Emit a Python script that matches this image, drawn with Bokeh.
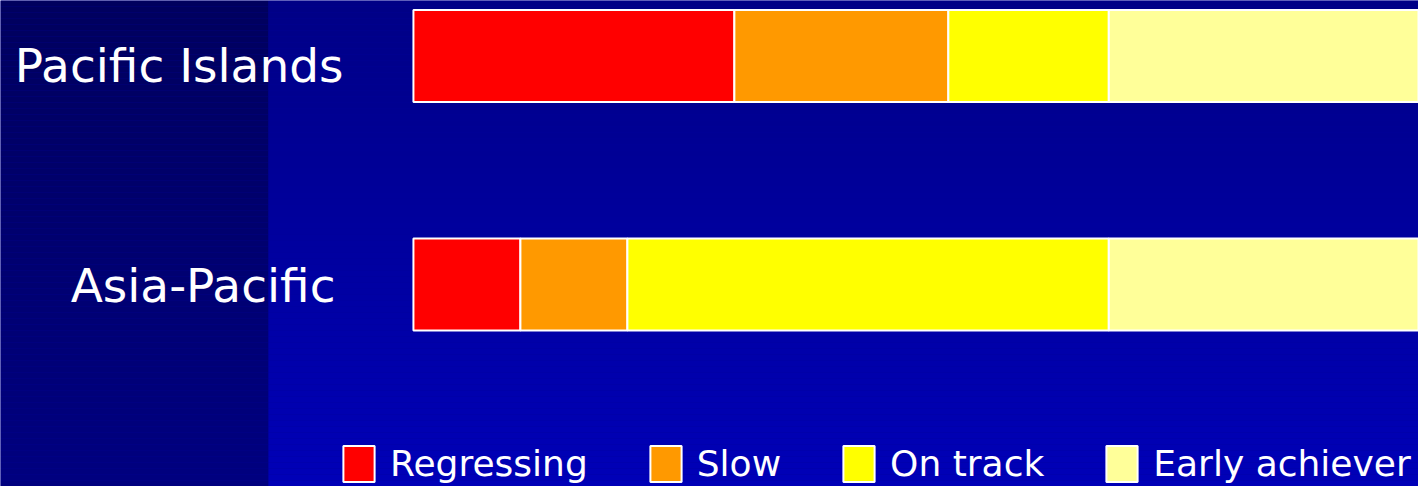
import numpy as np
from bokeh.plotting import figure
from bokeh.models import ColumnDataSource, Range1d, Legend, LegendItem
from bokeh.core.properties import value
from bokeh.embed import file_html
from bokeh.resources import INLINE

# ---- data ----
regions = ["Pacific Islands", "Asia-Pacific"]
series = ["Regressing", "Slow", "On track", "Early achiever"]
regressing = [6, 2]
slow = [4, 2]
on_track = [3, 9]
early_achiever = [8, 8]
colors = ["#FF0000", "#FF9900", "#FFFF00", "#FFFF99"]

# ---- figure ----
W, H = 1418, 486
p = figure(width=W, height=H, output_backend="svg", toolbar_location=None,
           x_range=Range1d(-7.72, 18.79), y_range=Range1d(-0.884, 1.243),
           min_border=0, outline_line_color=None)
p.axis.visible = False
p.grid.visible = False
p.background_fill_color = "#000099"
p.border_fill_color = "#000099"
p.extra_x_ranges = {"px": Range1d(0, W)}
p.extra_y_ranges = {"px": Range1d(H, 0)}

# background gradient (two panels)
step = 6
tops = np.arange(0, H, step)
bots = tops + step
t = (tops + step / 2) / float(H)
left_cols = ["#0000%02X" % int(0x5E + (0x80 - 0x5E) * v) for v in t]
right_cols = ["#0000%02X" % int(0x86 + (0xB8 - 0x86) * v) for v in t]
split = 268
p.quad(left=[0] * len(tops), right=[split] * len(tops), top=tops, bottom=bots,
       fill_color=left_cols, line_color=None, x_range_name="px", y_range_name="px")
p.quad(left=[split] * len(tops), right=[W] * len(tops), top=tops, bottom=bots,
       fill_color=right_cols, line_color=None, x_range_name="px", y_range_name="px")

# stacked bars
ypos = [len(regions) - 1 - i for i in range(len(regions))]
src = ColumnDataSource(dict(y=ypos, region=regions,
                            **{"Regressing": regressing, "Slow": slow,
                               "On track": on_track, "Early achiever": early_achiever}))
rs = p.hbar_stack(series, y="y", height=0.403, color=colors, source=src,
                  line_color="white", line_width=2)

# category labels
label_right = [343, 335]
label_dy = [9.5, 1]
lab_src = ColumnDataSource(dict(x=label_right, y=ypos, text=regions, dy=label_dy))
p.text(x="x", y="y", text="text", source=lab_src, x_range_name="px",
       y_offset="dy", text_align="right", text_baseline="alphabetic",
       text_color="white", text_font=value("DejaVu Sans"), text_font_size="47px")

# legend
items = [LegendItem(label=s, renderers=[r]) for s, r in zip(series, rs)]
legend = Legend(items=items, orientation="horizontal", location=(339, 0),
                background_fill_alpha=0, border_line_alpha=0, padding=0, margin=0,
                spacing=58, label_standoff=12, glyph_width=39, glyph_height=45,
                label_height=40, label_text_color="white",
                label_text_font="DejaVu Sans", label_text_font_size="36px")
p.add_layout(legend)

open("out.html", "w").write(file_html(p, INLINE))
